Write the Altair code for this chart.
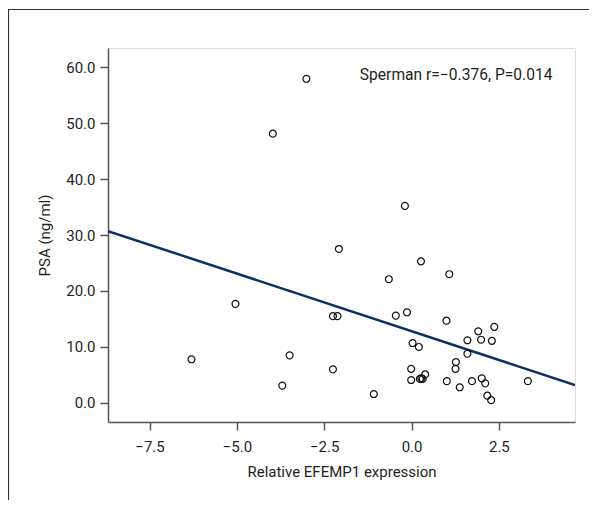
import altair as alt
import pandas as pd

# Scatter data (Relative EFEMP1 expression vs PSA)
efemp1 = [-3.01, -3.97, -0.19, -2.08, -5.04, -2.25, -2.12, -6.30, -3.49, -2.25,
          -3.70, 0.27, -0.65, 1.08, -0.45, -0.13, 1.00, 1.91, 2.37, 1.60,
          1.99, 2.30, 0.03, 0.21, 1.60, 1.27, 1.26, -0.01, 0.39, 0.24,
          0.28, 0.32, -0.01, 1.01, 1.38, 1.73, 2.01, 2.11, 3.33, -1.08,
          2.17, 2.28]
psa = [57.9, 48.1, 35.2, 27.5, 17.7, 15.5, 15.5, 7.8, 8.5, 6.0,
       3.1, 25.3, 22.1, 23.0, 15.6, 16.2, 14.7, 12.8, 13.6, 11.2,
       11.3, 11.1, 10.7, 10.0, 8.8, 7.3, 6.1, 6.1, 5.1, 4.3,
       4.4, 4.3, 4.1, 3.9, 2.8, 3.9, 4.4, 3.5, 3.9, 1.6,
       1.3, 0.5]

# Fitted line end points
fit_x = [-8.69, 4.68]
fit_y = [30.7, 3.2]

x_ticks = [-7.5, -5.0, -2.5, 0.0, 2.5]
y_ticks = [0, 10, 20, 30, 40, 50, 60]
x_domain = [-8.69, 4.68]
y_domain = [-3.4, 63.4]

annot_text = ["Sperman r=\u22120.376, P=0.014"]
annot_x = [-1.48]
annot_y = [58.6]

FONT = "Roboto, sans-serif"
TXT = "#231f20"
AX = "#555555"

pts = pd.DataFrame({"x": efemp1, "y": psa})
fit = pd.DataFrame({"x": fit_x, "y": fit_y})
ann = pd.DataFrame({"x": annot_x, "y": annot_y, "t": annot_text})
frame_df = pd.DataFrame({"a": [0]})

xscale = alt.Scale(domain=x_domain, nice=False, zero=False)
yscale = alt.Scale(domain=y_domain, nice=False, zero=False)

xaxis = alt.Axis(title="Relative EFEMP1 expression", values=x_ticks, format=".1f",
                 grid=False, domainColor=AX, domainWidth=1.5, tickColor=AX,
                 tickWidth=1.5, tickSize=8, labelFont=FONT, labelFontSize=15,
                 labelColor=TXT, labelPadding=9, titleFont=FONT, titleFontSize=15,
                 titleFontWeight="normal", titleColor=TXT, titlePadding=10)
yaxis = alt.Axis(title="PSA (ng/ml)", values=y_ticks, format=".1f",
                 grid=False, domainColor=AX, domainWidth=1.5, tickColor=AX,
                 tickWidth=1.5, tickSize=8, labelFont=FONT, labelFontSize=15,
                 labelColor=TXT, labelPadding=5, titleFont=FONT, titleFontSize=15,
                 titleFontWeight="normal", titleColor=TXT, titlePadding=13)

points = alt.Chart(pts).mark_point(shape="circle", filled=False, color="#111111",
                                   size=48, strokeWidth=1.2, opacity=1).encode(
    x=alt.X("x:Q", scale=xscale, axis=xaxis),
    y=alt.Y("y:Q", scale=yscale, axis=yaxis),
)

line = alt.Chart(fit).mark_line(color="#0f2f5f", strokeWidth=2.5, clip=True).encode(
    x=alt.X("x:Q", scale=xscale),
    y=alt.Y("y:Q", scale=yscale),
)

text = alt.Chart(ann).mark_text(align="left", baseline="middle", font=FONT,
                                fontSize=15.6, color=TXT).encode(
    x=alt.X("x:Q", scale=xscale),
    y=alt.Y("y:Q", scale=yscale),
    text="t:N",
)

frame = alt.Chart(frame_df).mark_rect(fill=None, stroke="#333333", strokeWidth=1.2,
                                      clip=False).encode(
    x=alt.value(-99.5), x2=alt.value(700),
    y=alt.value(-38.5), y2=alt.value(700),
)

chart = alt.layer(frame, line, points, text).properties(
    width=467, height=374,
    autosize=alt.AutoSizeParams(type="none"),
    padding={"left": 100, "top": 40, "right": 14, "bottom": 78},
).configure_view(stroke=None).configure(background="white")

chart.save("out.html", embed_options={"renderer": "svg", "actions": False})
